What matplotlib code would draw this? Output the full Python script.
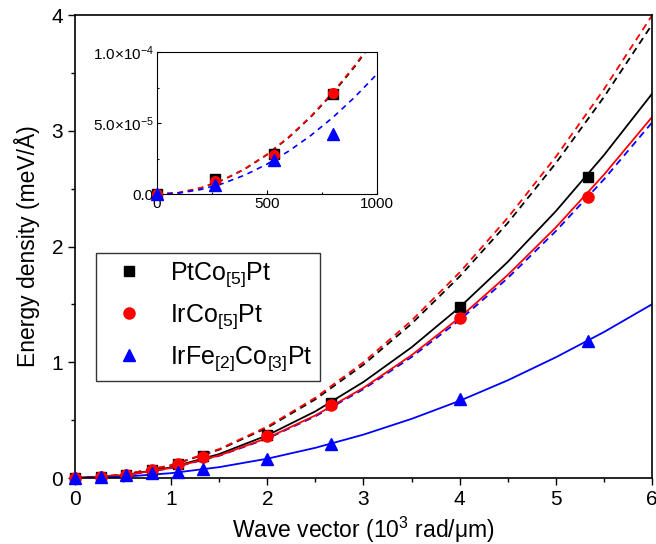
import numpy as np
import matplotlib
matplotlib.use('Agg')
import matplotlib.pyplot as plt
from matplotlib.ticker import MultipleLocator

plt.rcParams['font.family'] = ['Liberation Sans', 'DejaVu Sans']
plt.rcParams['mathtext.fontset'] = 'custom'
plt.rcParams['mathtext.rm'] = 'Liberation Sans'
plt.rcParams['mathtext.it'] = 'Liberation Sans:italic'
plt.rcParams['mathtext.default'] = 'regular'
plt.rcParams['lines.scale_dashes'] = False

# measured points (main panel), wave vector in 10^3 rad/um
k = [0, 0.2667, 0.5333, 0.8, 1.0667, 1.3333, 2.0, 2.6667, 4.0, 5.3333]
e_ptco = [0, 0.011, 0.029, 0.071, 0.12, 0.19, 0.37, 0.65, 1.48, 2.60]
e_irco = [0, 0.0095, 0.028, 0.0715, 0.118, 0.185, 0.36, 0.63, 1.385, 2.425]
e_irfeco = [0, 0.0065, 0.024, 0.0425, 0.055, 0.078, 0.16, 0.29, 0.68, 1.18]

# curves
k_fit = [0, 0.5, 1, 1.5, 2, 2.5, 3, 3.5, 4, 4.5, 5, 5.5, 6]
ptco_solid = [0, 0.023, 0.092, 0.207, 0.369, 0.576, 0.830, 1.129, 1.475, 1.867, 2.305, 2.789, 3.319]
irco_solid = [0, 0.022, 0.087, 0.195, 0.346, 0.541, 0.779, 1.061, 1.386, 1.754, 2.165, 2.620, 3.118]
irfeco_solid = [0, 0.010, 0.042, 0.094, 0.167, 0.261, 0.375, 0.511, 0.667, 0.844, 1.043, 1.261, 1.501]
ptco_dash = [0, 0.027, 0.109, 0.245, 0.435, 0.680, 0.979, 1.333, 1.741, 2.203, 2.720, 3.291, 3.917]
irco_dash = [0, 0.028, 0.111, 0.250, 0.444, 0.694, 1.000, 1.360, 1.776, 2.248, 2.775, 3.358, 3.996]
irfeco_dash = [0, 0.021, 0.085, 0.192, 0.341, 0.533, 0.768, 1.045, 1.365, 1.727, 2.133, 2.580, 3.071]

# inset: wave vector in rad/um, values x 1e-5
k_in = [0, 266.7, 533.3, 800]
in_ptco = [0, 1.1, 2.87, 7.06]
in_irco = [0, 0.95, 2.8, 7.15]
in_irfeco = [0, 0.65, 2.43, 4.25]
k_in_fit = [0, 100, 200, 300, 400, 500, 600, 700, 800, 900, 1000]
in_ptco_dash = [0, 0.111, 0.444, 0.999, 1.776, 2.775, 3.996, 5.439, 7.104, 8.991, 11.1]
in_irco_dash = [0, 0.112, 0.448, 1.008, 1.792, 2.8, 4.032, 5.488, 7.168, 9.072, 11.2]
in_irfeco_dash = [0, 0.0845, 0.338, 0.7605, 1.352, 2.1125, 3.042, 4.14, 5.408, 6.845, 8.45]

labels = ['PtCo$_{[5]}$Pt', 'IrCo$_{[5]}$Pt', 'IrFe$_{[2]}$Co$_{[3]}$Pt']
colors = ['black', 'red', 'blue']
markers = ['s', 'o', '^']
msizes = [7, 8, 9]

fig = plt.figure(figsize=(6.56, 5.44), dpi=100)
ax = fig.add_axes([0.1143, 0.1213, 0.8796, 0.8511])

dash = (0, (5, 3.6))
for ys, c in zip([ptco_dash, irco_dash, irfeco_dash], colors):
    ax.plot(k_fit, ys, color=c, lw=1.3, ls=dash)
for ys, c in zip([ptco_solid, irco_solid, irfeco_solid], colors):
    ax.plot(k_fit, ys, color=c, lw=1.3)
handles = []
for ys, c, m, ms, lab in zip([e_ptco, e_irco, e_irfeco], colors, markers, msizes, labels):
    h, = ax.plot(k, ys, ls='none', marker=m, ms=ms, color=c, label=lab, clip_on=False, zorder=5)
    handles.append(h)

ax.set_xlim(0, 6)
ax.set_ylim(0, 4)
ax.xaxis.set_major_locator(MultipleLocator(1))
ax.xaxis.set_minor_locator(MultipleLocator(0.5))
ax.yaxis.set_major_locator(MultipleLocator(1))
ax.yaxis.set_minor_locator(MultipleLocator(0.5))
ax.tick_params(which='both', direction='out', top=False, right=False, labelsize=15, width=1)
ax.tick_params(which='major', length=5)
ax.tick_params(which='minor', length=3)
for s in ax.spines.values():
    s.set_linewidth(1.2)
ax.set_xlabel('Wave vector (10$^3$ rad/μm)', fontsize=16.5, labelpad=4)
ax.set_ylabel('Energy density (meV/Å)', fontsize=16.5, labelpad=8)

leg = ax.legend(handles=handles, loc='upper left', bbox_to_anchor=(0.0364, 0.486),
                borderaxespad=0, fontsize=18, frameon=True, fancybox=False,
                edgecolor='black', handlelength=2.05, handletextpad=0.6,
                labelspacing=0.53, borderpad=0.3, numpoints=1)
leg.get_frame().set_linewidth(1.0)

# inset
ins = fig.add_axes([0.2389, 0.6428, 0.3354, 0.2610])
for ys, c in zip([in_ptco_dash, in_irco_dash, in_irfeco_dash], colors):
    ins.plot(k_in_fit, np.array(ys) * 1e-5, color=c, lw=1.2, ls=(0, (4, 3.5)))
for ys, c, m, ms in zip([in_ptco, in_irco, in_irfeco], colors, markers, [6.5, 7, 8]):
    ins.plot(k_in, np.array(ys) * 1e-5, ls='none', marker=m, ms=ms, color=c, clip_on=False, zorder=5)
ins.set_xlim(0, 1000)
ins.set_ylim(0, 1e-4)
ins.set_xticks([0, 500, 1000])
ins.set_xticks([250, 750], minor=True)
ins.set_yticks([0, 5e-5, 1e-4])
ins.set_yticks([2.5e-5, 7.5e-5], minor=True)
ins.set_yticklabels(['0.0', '5.0×10$^{-5}$', '1.0×10$^{-4}$'])
ins.tick_params(which='both', direction='in', labelsize=11, width=0.8, pad=2)
ins.tick_params(which='major', length=3)
ins.tick_params(which='minor', length=1.5)

fig.savefig('out.png', dpi=100)
